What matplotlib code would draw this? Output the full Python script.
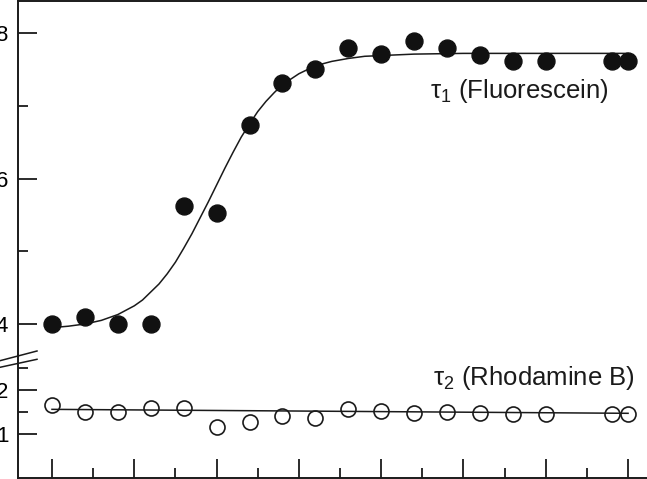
import matplotlib.pyplot as plt
from matplotlib.lines import Line2D

plt.rcParams['font.family'] = ['Liberation Sans', 'DejaVu Sans']
plt.rcParams['mathtext.default'] = 'regular'

# measured points (x in arbitrary units, tick every 5)
x_pts = [0, 4, 8, 12, 16, 20, 24, 28, 32, 36, 40, 44, 48, 52, 56, 60, 68, 70]
tau1 = [4.0, 4.1, 4.0, 4.0, 5.62, 5.52, 6.74, 7.31, 7.50, 7.79, 7.71, 7.89,
        7.79, 7.70, 7.62, 7.62, 7.62, 7.62]
tau2 = [1.66, 1.51, 1.51, 1.58, 1.60, 1.17, 1.28, 1.41, 1.36, 1.56, 1.53, 1.48,
        1.51, 1.48, 1.45, 1.45, 1.45, 1.45]

# fitted curves
fit1_x = [0, 2, 4, 6, 8, 10, 11, 12, 13, 14, 15, 16, 17, 18, 19, 20, 21, 22,
          23, 24, 25, 26, 27, 28, 30, 32, 34, 36, 38, 40, 44, 50, 60, 70]
fit1_y = [3.95, 3.97, 4.00, 4.05, 4.13, 4.25, 4.33, 4.44, 4.55, 4.69, 4.85,
          5.04, 5.24, 5.46, 5.68, 5.91, 6.14, 6.36, 6.57, 6.75, 6.92, 7.06,
          7.18, 7.29, 7.44, 7.55, 7.61, 7.65, 7.68, 7.69, 7.71, 7.72, 7.72, 7.72]
fit2_x = [0, 70]
fit2_y = [1.56, 1.47]

W, H = 647, 479


def px_box(left, top, right, bottom):
    return [left / W, 1 - bottom / H, (right - left) / W, (bottom - top) / H]


fig = plt.figure(figsize=(W / 100, H / 100), dpi=100)
ax_top = fig.add_axes(px_box(18, 1, 647, 355))
ax_bot = fig.add_axes(px_box(18, 355, 647, 478))

ink = '#1a1a1a'
for ax in (ax_top, ax_bot):
    ax.set_xlim(-4.13, 72.3)
    ax.patch.set_visible(False)
    ax.spines['right'].set_visible(False)
    for s in ax.spines.values():
        s.set_linewidth(1.4)
        s.set_color(ink)
    ax.tick_params(which='both', direction='in', color=ink, width=1.3,
                   labelsize=16, pad=7)
    ax.tick_params(which='major', length=13.5)
    ax.tick_params(which='minor', length=7.5)

ax_top.spines['bottom'].set_visible(False)
ax_bot.spines['top'].set_visible(False)

ax_top.set_ylim(3.574, 8.44)
ax_top.set_yticks([4, 6, 8])
ax_top.set_yticks([5, 7], minor=True)
ax_top.set_xticks([])
ax_top.set_xticks([], minor=True)

ax_bot.set_ylim(0.0, 2.795)
ax_bot.set_yticks([1, 2])
ax_bot.set_yticks([1.5, 2.5], minor=True)
ax_bot.set_xticks(range(0, 71, 10))
ax_bot.set_xticks(range(5, 70, 10), minor=True)
ax_bot.tick_params(axis='x', which='both', labelbottom=False)

ax_top.plot(fit1_x, fit1_y, color=ink, lw=1.1, zorder=2)
ax_top.plot(x_pts, tau1, 'o', color='#111111', ms=12.2, mec='#111111',
            zorder=3, clip_on=False)
ax_top.text(45.9, 7.11, r'$\tau_1$ (Fluorescein)', fontsize=18.5,
            ha='left', va='baseline', color=ink)

ax_bot.plot(fit2_x, fit2_y, color=ink, lw=1.1, zorder=2)
ax_bot.plot(x_pts, tau2, 'o', mfc='none', mec=ink, mew=1.2, ms=10.8,
            zorder=3, clip_on=False)
ax_bot.text(46.3, 2.11, r'$\tau_2$ (Rhodamine B)', fontsize=18.5,
            ha='left', va='baseline', color=ink, clip_on=False)

# axis break marks
for y0, y1 in [(360.7, 351.0), (367.3, 359.3)]:
    fig.add_artist(Line2D([0, 37 / W], [1 - y0 / H, 1 - y1 / H],
                          transform=fig.transFigure, color=ink, lw=1.1))

fig.savefig('out.png', dpi=100)
